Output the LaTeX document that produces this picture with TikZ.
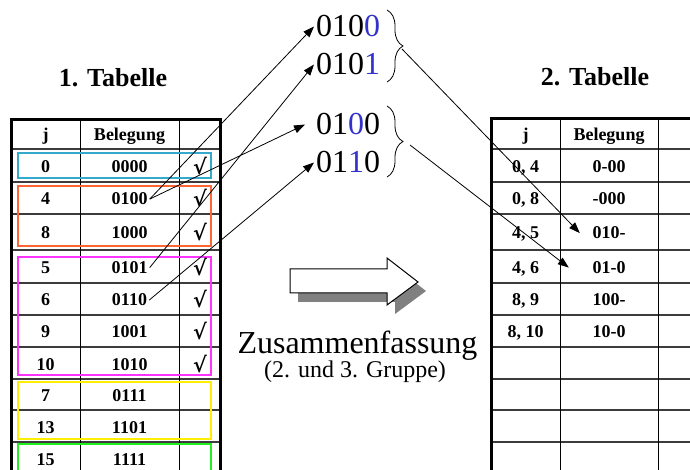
\documentclass[tikz,border=0pt]{standalone}
\usepackage{fontspec}
\setmainfont{Liberation Serif}[BoldFont={Liberation Serif Bold}, ItalicFont={Liberation Serif Italic}]
\newfontfamily\chkfont{DejaVu Serif}
\usetikzlibrary{arrows.meta,decorations.pathreplacing,calc}
\definecolor{numblue}{RGB}{51,51,204}
\definecolor{gcyan}{RGB}{51,170,204}
\definecolor{gorange}{RGB}{255,102,51}
\definecolor{gmag}{RGB}{255,51,255}
\definecolor{gyel}{RGB}{255,238,0}
\definecolor{ggreen}{RGB}{34,238,34}
\definecolor{rowline}{RGB}{60,60,60}
\definecolor{shadowgray}{RGB}{128,128,128}
\tikzset{
 cell/.style={font=\fontsize{18bp}{20bp}\selectfont\bfseries, inner sep=2bp, anchor=base},
 chk/.style={font=\fontsize{21bp}{23bp}\chkfont\bfseries, inner sep=0bp, anchor=base},
 ttl/.style={font=\fontsize{26bp}{28bp}\selectfont\bfseries, anchor=base},
 bignum/.style={font=\fontsize{32bp}{34bp}\selectfont, anchor=base west, inner sep=0pt},
 arr/.style={line width=0.8bp, -{Triangle[length=11bp,width=8bp]}},
 grp/.style={line width=1.2bp},
 outer/.style={line width=3bp},
 hline/.style={line width=1.5bp, draw=rowline},
 vline/.style={line width=1bp},
 bracestyle/.style={decorate, decoration={brace, amplitude=16bp}, line width=0.8bp},
}
\begin{document}
\begin{tikzpicture}[x=1bp,y=-1bp]
\useasboundingbox (0,0) rectangle (690,470);
\clip (0,0) rectangle (690,470);
\fill[white] (0,0) rectangle (690,470);

% ---- left table grid
\foreach \y in {149,182,214,250,283,315,347,379,410,442}
  \draw[hline] (11,\y) -- (220,\y);
\draw[vline] (80,119) -- (80,472);
\draw[vline] (179,119) -- (179,472);
\draw[outer] (11,472) -- (11,119.5) -- (220,119.5) -- (220,472);

% ---- right table grid
\foreach \y in {149,182,214,250,283,315,347,379,410,442}
  \draw[hline] (491,\y) -- (692,\y);
\draw[vline] (560,118) -- (560,472);
\draw[vline] (658,118) -- (658,472);
\draw[outer] (491,472) -- (491,118.5) -- (692,118.5);

% ---- group boxes
\draw[grp,gcyan]   (18,153) rectangle (211,178);
\draw[grp,gorange] (18,186) rectangle (211,246);
\draw[grp,gmag]    (18,257) rectangle (211,375);
\draw[grp,gyel]    (18,382) rectangle (211,439);
\draw[grp,ggreen]  (18,444) rectangle (211,480);

% ---- titles
\node[ttl] (tt1) at (113,87) {1. Tabelle};
\node[ttl] (tt2) at (595,86) {2. Tabelle};

% ---- left table text
\node[cell] (lhj) at (45.5,141) {j};
\node[cell] (lhb) at (129.5,141) {Belegung};
\foreach \j/\b/\c/\yb [count=\i] in {0/0000/√/172.5, 4/0100/√/205, 8/1000/√/239, 5/0101/√/273.5, 6/0110/√/306, 9/1001/√/338, 10/1010/√/370, 7/0111//401.5, 13/1101//433, 15/1111//465} {
  \node[cell] (lj\i) at (45.5,\yb) {\j};
  \node[cell] (lb\i) at (129.5,\yb) {\b};
  \node[chk] (lc\i) at (200,\yb+2) {\c};
}

% ---- right table text
\node[cell] (rhj) at (525.5,141) {j};
\node[cell] (rhb) at (609,141) {Belegung};
\foreach \j/\b/\yb [count=\i] in {{0, 4}/0-00/172.5, {0, 8}/-000/205, {4, 5}/010-/239, {4, 6}/01-0/273.5, {8, 9}/100-/306, {8, 10}/10-0/338} {
  \node[cell] (rj\i) at (525.5,\yb) {\j};
  \node[cell] (rb\i) at (609,\yb) {\b};
}

% ---- top numbers
\node[bignum] (t1) at (316,37)  {010\textcolor{numblue}{0}};
\node[bignum] (t2) at (316,75)  {010\textcolor{numblue}{1}};
\node[bignum] (t3) at (316,135) {01\textcolor{numblue}{0}0};
\node[bignum] (t4) at (316,173) {01\textcolor{numblue}{1}0};

% ---- braces
\draw[bracestyle] (387,10) -- (387,82);
\draw[bracestyle] (387,106) -- (387,177);
\coordinate (br1) at (402,49);
\coordinate (br2) at (410,145);

% ---- arrows
\draw[arr] (lb2.east) -- ([xshift=-2bp]t1.west);
\draw[arr] (lb2.east) -- ([xshift=-11bp]t3.west);
\draw[arr] (lb4.east) -- ([xshift=-2bp]t2.west);
\draw[arr] (lb5.east) -- ([xshift=-2bp]t4.west);
\draw[arr] (br1) -- ([xshift=-10.5bp]rb3.west);
\draw[arr] (br2) -- ([xshift=-21.5bp]rb4.west);

% ---- big hollow arrow with shadow
\fill[shadowgray] (298,278) -- (395,278) -- (395,267) -- (426,291) -- (395,314) -- (395,302) -- (298,302) -- cycle;
\draw[line width=1bp, fill=white] (290,269) -- (387,269) -- (387,258) -- (418,282) -- (387,305) -- (387,293) -- (290,293) -- cycle;

\node[font=\fontsize{32bp}{34bp}\selectfont, anchor=base] (zf) at (357.5,353) {Zusammenfassung};
\node[font=\fontsize{24bp}{26bp}\selectfont, anchor=base] (gr) at (355,377) {(2. und 3. Gruppe)};
\end{tikzpicture}
\end{document}
